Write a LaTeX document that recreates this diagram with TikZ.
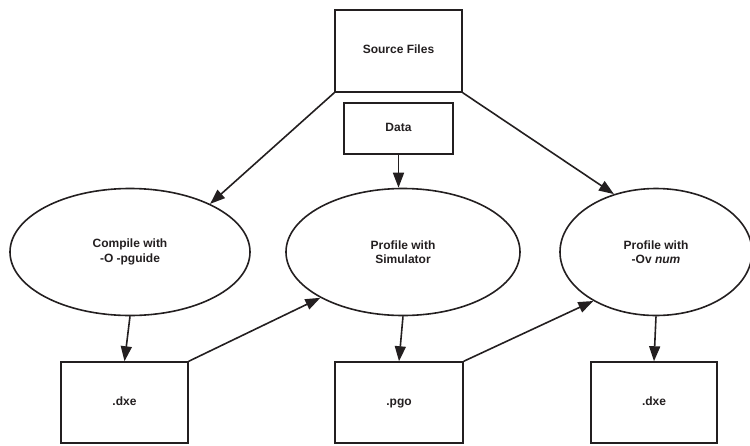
\documentclass[tikz,border=0pt]{standalone}
\usepackage{fontspec}
\setmainfont{Liberation Sans}
\usepackage{tikz}
\usetikzlibrary{shapes.geometric,arrows.meta}
\definecolor{lineGrey}{HTML}{231F20}

\begin{document}
\begin{tikzpicture}[x=1pt, y=-1pt,
    box/.style={draw=lineGrey, line width=1.5pt, rectangle, inner sep=0pt, minimum height=81pt, text height=0.72em, text depth=0.22em},
    oval/.style={draw=lineGrey, line width=1.6pt, ellipse, inner sep=0pt, minimum height=127pt},
    flow/.style={-{Triangle[length=15pt,width=11pt]}, line width=1.6pt, lineGrey},
    every node/.style={font=\fontsize{12}{14.5}\selectfont\bfseries, align=center, text=lineGrey}]

        \useasboundingbox (0,0) rectangle (750,445);

        \node (src) [box, minimum width=127pt, minimum height=82pt] at (398.5,51) {Source Files};
        \node (data) [box, minimum width=109pt, minimum height=51pt] at (398.5,128.5) {Data};

        \node (comp) [oval, minimum width=240pt] at (130,252) {Compile with \\ -O -pguide};
        \node (sim) [oval, minimum width=234pt] at (403,252) {Profile with \\ Simulator};
        \node (ov) [oval, minimum width=192pt] at (656,252) {Profile with \\ -Ov \textit{num}};

        \node (dxeA) [box, minimum width=127pt] at (124.5,402.5) {.dxe};
        \node (pgo) [box, minimum width=128pt] at (399,402.5) {.pgo};
        \node (dxeB) [box, minimum width=126pt] at (654,402.5) {.dxe};

        \draw[flow] (src.south west) -- (comp.31);
        \draw[flow] (src.south east) -- (ov.126);
        \draw[flow] (data.south) -- (data.south |- sim.north);
        \draw[flow] (comp.south) -- (dxeA.north);
        \draw[flow] (dxeA.north east) -- (sim.209);
        \draw[flow] (sim.south) -- (pgo.north);
        \draw[flow] (pgo.north east) -- (ov.218);
        \draw[flow] (ov.south) -- (dxeB.north);
    \end{tikzpicture}
\end{document}
